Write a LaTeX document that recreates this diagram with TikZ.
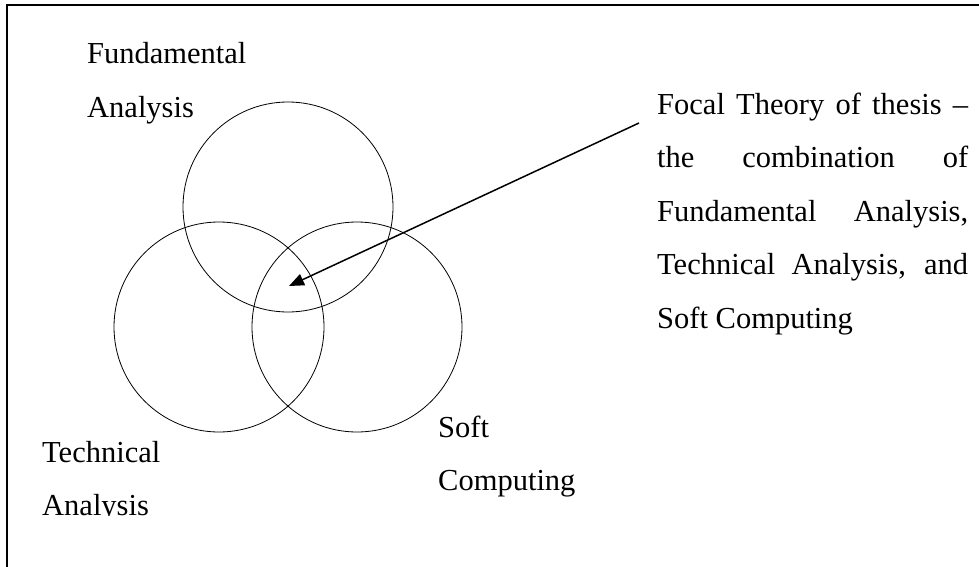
\documentclass[tikz,border=0pt]{standalone}
\usepackage{fontspec}
\setmainfont{Liberation Serif}
\usepackage{tikz}
\usetikzlibrary{arrows.meta}
\tikzstyle{set}=[circle, draw=black, line width=0.8pt, minimum size=210pt, inner sep=0pt]
\tikzstyle{setname}=[anchor=base west, inner sep=0pt, text width=200pt, align=left, font=\fontsize{30.5}{53.5}\selectfont]
\tikzstyle{arrow}=[line width=1.5pt, -{Triangle[length=15pt, width=12pt]}]

\begin{document}
\begin{tikzpicture}[x=1pt, y=-1pt]
	\useasboundingbox (0, 0) rectangle (979, 567);
	% frame
	\draw [line width=2pt] (7, 567) -- (7, 5) -- (979, 5);
	\begin{scope}
		\node (fund) at (288, 207)[set] {};
		\node (tech) at (219, 327)[set] {};
		\node (soft) at (357, 327)[set] {};
		\coordinate (focus) at (289, 286);
		\coordinate (tail) at (639, 123);
	\end{scope}
	\begin{scope}
		\node (fundname) at (87, 64)[setname] {Fundamental\\Analysis};
		\node (softname) at (438, 437)[setname] {Soft\\Computing};
		\node (thesis) at (657, 114)[setname, text width=311pt, align=justify] {
			Focal Theory of thesis --\linebreak
			the combination of\linebreak
			Fundamental Analysis,\linebreak
			Technical Analysis, and\linebreak
			Soft Computing
		};
	\end{scope}
	\begin{scope}
		\clip (0, 0) rectangle (979, 515);
		\node (techname) at (42, 462)[setname] {Technical\\Analysis};
	\end{scope}
	\path [arrow] (tail) edge (focus);
\end{tikzpicture}
\end{document}
